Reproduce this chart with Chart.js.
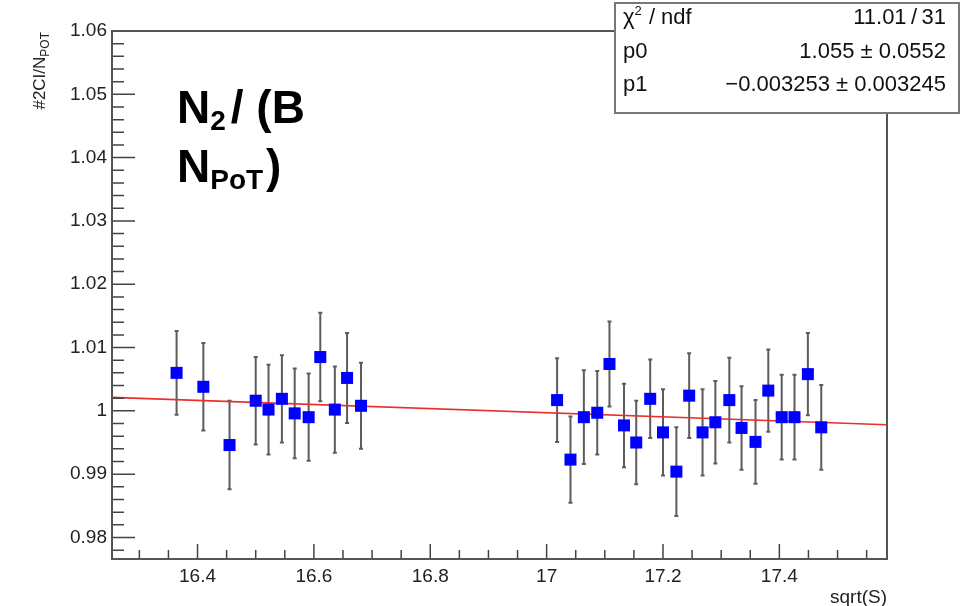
<!DOCTYPE html>
<html>
<head>
<meta charset="utf-8">
<script src="https://cdn.jsdelivr.net/npm/chart.js@4/dist/chart.umd.min.js"></script>
<style>
  body { margin: 0; background: #fff; }
  #wrap { width: 961px; height: 606px; }
</style>
</head>
<body>
<div id="wrap"><canvas id="myChart"></canvas></div>
<script>
// one entry per run: sqrt(S), normalised count and its error
let sqrtS = [16.364, 16.410, 16.455, 16.500, 16.522, 16.545, 16.567, 16.591, 16.611, 16.636, 16.657, 16.681,
    17.018, 17.041, 17.064, 17.087, 17.108, 17.133, 17.154, 17.178, 17.200, 17.223, 17.245, 17.268,
    17.290, 17.314, 17.335, 17.359, 17.381, 17.404, 17.426, 17.449, 17.472];
let ratio = [1.0060, 1.0038, 0.9946, 1.0016, 1.0002, 1.0019, 0.9996, 0.9990, 1.0085, 1.0002, 1.0052, 1.0008,
    1.0017, 0.9923, 0.9990, 0.9997, 1.0074, 0.9977, 0.9950, 1.0019, 0.9966, 0.9904, 1.0024, 0.9966,
    0.9982, 1.0017, 0.9973, 0.9951, 1.0032, 0.9990, 0.9990, 1.0058, 0.9974];
let ratioErr = [0.0066, 0.0069, 0.0070, 0.0069, 0.0071, 0.0069, 0.0071, 0.0069, 0.0070, 0.0068, 0.0071, 0.0068,
    0.0066, 0.0068, 0.0074, 0.0066, 0.0067, 0.0066, 0.0066, 0.0062, 0.0068, 0.0070, 0.0067, 0.0068,
    0.0065, 0.0067, 0.0066, 0.0066, 0.0065, 0.0067, 0.0067, 0.0065, 0.0067];

let xTicks = [16.4, 16.6, 16.8, 17, 17.2, 17.4];
let yTicks = [0.98, 0.99, 1, 1.01, 1.02, 1.03, 1.04, 1.05, 1.06];

// linear fit pol1: p0 + p1*x
let fitP0 = 1.055, fitP0Err = 0.0552;
let fitP1 = -0.003253, fitP1Err = 0.003245;
let chi2 = 11.01, ndf = 31;

let xMin = 16.253, xMax = 17.585;
let yMin = 0.9766, yMax = 1.06;

const FONT = '"Liberation Sans", Arial, Helvetica, sans-serif';
const axisGray = '#555';
const THIN = '\u2009';

let points = sqrtS.map((x, i) => ({ x: x, y: ratio[i] }));
let fitLine = [xMin, xMax].map(x => ({ x: x, y: fitP0 + fitP1 * x }));

function fmt(v) {
    return String(+v.toFixed(3));
}

// vertical error bars with small end caps, under the markers
const errorBars = {
    id: 'errorBars',
    beforeDatasetsDraw(chart) {
        const ctx = chart.ctx, xs = chart.scales.x, ys = chart.scales.y;
        ctx.save();
        ctx.strokeStyle = '#5c5c5c';
        ctx.lineWidth = 2;
        ctx.beginPath();
        for (let i = 0; i < sqrtS.length; i++) {
            const px = xs.getPixelForValue(sqrtS[i]);
            const top = ys.getPixelForValue(ratio[i] + ratioErr[i]);
            const bot = ys.getPixelForValue(ratio[i] - ratioErr[i]);
            ctx.moveTo(px, top); ctx.lineTo(px, bot);
            ctx.moveTo(px - 2, top); ctx.lineTo(px + 2, top);
            ctx.moveTo(px - 2, bot); ctx.lineTo(px + 2, bot);
        }
        ctx.stroke();
        ctx.restore();
    }
};

// sub/superscript text pieces drawn one after another
function drawRich(ctx, x, y, parts) {
    for (const p of parts) {
        ctx.font = p.font;
        ctx.fillText(p.text, x, y + (p.dy || 0));
        x += ctx.measureText(p.text).width + (p.gap || 0);
    }
    return x;
}
function richWidth(ctx, parts) {
    let w = 0;
    for (const p of parts) {
        ctx.font = p.font;
        w += ctx.measureText(p.text).width + (p.gap || 0);
    }
    return w;
}

const frame = {
    id: 'frame',
    afterDraw(chart) {
        const ctx = chart.ctx, a = chart.chartArea;
        const xs = chart.scales.x, ys = chart.scales.y;
        ctx.save();

        // inward tick marks, major and minor
        ctx.strokeStyle = '#444';
        ctx.lineWidth = 1.5;
        ctx.beginPath();
        for (let k = Math.ceil(xMin / 0.05); k <= Math.floor(xMax / 0.05 + 1e-6); k++) {
            const px = xs.getPixelForValue(k * 0.05);
            const len = k % 4 === 0 ? 15 : 9;
            ctx.moveTo(px, a.bottom); ctx.lineTo(px, a.bottom - len);
        }
        for (let k = Math.ceil(yMin / 0.002); k <= Math.floor(yMax / 0.002 + 1e-6); k++) {
            const py = ys.getPixelForValue(k * 0.002);
            const len = k % 5 === 0 ? 23 : 12;
            ctx.moveTo(a.left, py); ctx.lineTo(a.left + len, py);
        }
        ctx.stroke();

        ctx.strokeStyle = axisGray;
        ctx.lineWidth = 2;
        ctx.strokeRect(a.left, a.top, a.right - a.left, a.bottom - a.top);

        // y axis title, rotated, ends at the top of the frame
        ctx.fillStyle = '#222';
        ctx.textBaseline = 'alphabetic';
        ctx.textAlign = 'left';
        const yTitle = [
            { text: '#2CI/N', font: '17px ' + FONT },
            { text: 'POT', font: '12px ' + FONT, dy: 4 }
        ];
        ctx.save();
        ctx.translate(45, a.top + 1);
        ctx.rotate(-Math.PI / 2);
        drawRich(ctx, -richWidth(ctx, yTitle), 0, yTitle);
        ctx.restore();

        // big label inside the plot
        ctx.fillStyle = '#000';
        const big = 'bold 46px ' + FONT, small = 'bold 28px ' + FONT;
        drawRich(ctx, 177, 123, [
            { text: 'N', font: big },
            { text: '2', font: small, dy: 7, gap: 5 },
            { text: '/ (B', font: big }
        ]);
        drawRich(ctx, 177, 182, [
            { text: 'N', font: big },
            { text: 'PoT', font: small, dy: 7, gap: 3 },
            { text: ')', font: big }
        ]);

        // fit statistics box
        const bx = 615, by = 3, bw = 344, bh = 110;
        ctx.fillStyle = '#fff';
        ctx.fillRect(bx, by, bw, bh);
        ctx.strokeStyle = '#777';
        ctx.lineWidth = 2;
        ctx.strokeRect(bx, by, bw, bh);

        ctx.fillStyle = '#111';
        const f = '22px ' + FONT;
        const rows = [
            { label: [{ text: '\u03C7', font: f }, { text: '2', font: '13px ' + FONT, dy: -9, gap: 1 }, { text: ' / ndf', font: f }],
              value: fmt(chi2) + THIN + '/' + THIN + ndf, y: 24 },
            { label: [{ text: 'p0', font: f }],
              value: fmt(fitP0) + ' \u00B1 ' + fitP0Err, y: 58 },
            { label: [{ text: 'p1', font: f }],
              value: '\u2212' + Math.abs(fitP1) + ' \u00B1 ' + fitP1Err, y: 91 }
        ];
        for (const r of rows) {
            ctx.textAlign = 'left';
            drawRich(ctx, bx + 8, r.y, r.label);
            ctx.textAlign = 'right';
            ctx.font = f;
            ctx.fillText(r.value, bx + bw - 13, r.y);
        }
        ctx.restore();
    }
};

const ctx = document.getElementById('myChart');
const myChart = new Chart(ctx, {
    type: 'scatter',
    data: {
        datasets: [{
            data: points,
            showLine: false,
            pointStyle: 'rect',
            pointRadius: 8.5,
            pointBackgroundColor: '#0000ff',
            pointBorderWidth: 0
        }, {
            data: fitLine,
            showLine: true,
            pointRadius: 0,
            borderColor: 'rgb(235,45,45)',
            borderWidth: 1.6
        }]
    },
    options: {
        responsive: true,
        maintainAspectRatio: false,
        animation: false,
        events: [],
        layout: { padding: { left: 0, top: 31, right: 74, bottom: 0 } },
        plugins: {
            legend: { display: false },
            tooltip: { enabled: false }
        },
        scales: {
            x: {
                type: 'linear',
                min: xMin,
                max: xMax,
                afterBuildTicks: s => { s.ticks = xTicks.map(v => ({ value: v })); },
                afterFit: s => { s.height = 47; },
                grid: { display: false, drawTicks: false },
                border: { display: false },
                ticks: {
                    autoSkip: false,
                    maxRotation: 0,
                    padding: 6,
                    color: '#222',
                    font: { family: FONT, size: 19 },
                    callback: v => fmt(v)
                },
                title: {
                    display: true,
                    text: 'sqrt(S)',
                    align: 'end',
                    color: '#222',
                    padding: 0,
                    font: { family: FONT, size: 19, lineHeight: 0.85 }
                }
            },
            y: {
                type: 'linear',
                min: yMin,
                max: yMax,
                afterBuildTicks: s => { s.ticks = yTicks.map(v => ({ value: v })); },
                afterFit: s => { s.width = 112; },
                grid: { display: false, drawTicks: false },
                border: { display: false },
                ticks: {
                    padding: 5,
                    color: '#222',
                    font: { family: FONT, size: 19 },
                    callback: v => fmt(v)
                }
            }
        }
    },
    plugins: [errorBars, frame]
});
</script>
</body>
</html>
